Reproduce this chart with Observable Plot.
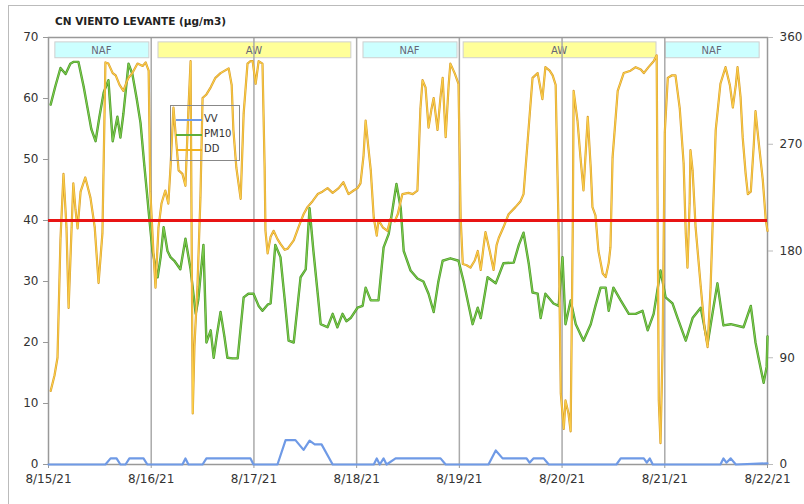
<!DOCTYPE html>
<html><head><meta charset="utf-8">
<script src="https://cdn.jsdelivr.net/npm/d3@7"></script>
<script src="https://cdn.jsdelivr.net/npm/@observablehq/plot@0.6"></script>
<style>
body{margin:0;background:#fff;font-family:"DejaVu Sans",sans-serif;}
#wrap{position:relative;width:804px;height:504px;overflow:hidden;background:#fff;}
#frame{position:absolute;left:8px;top:5px;width:900px;height:600px;border-top:1.5px solid #bbb;border-left:1.5px solid #bbb;}
#chart{position:absolute;left:0;top:0;}
#title{position:absolute;left:55px;top:15px;font-size:10.5px;font-weight:bold;color:#222;}
#legend{position:absolute;left:170px;top:105px;width:68px;height:54px;border:1.5px solid #888;font-size:10px;color:#333;}
.li{position:absolute;left:5px;height:12px;}
.li span.sw{position:absolute;left:0;top:6px;width:26px;height:0;}
.li span.tx{position:absolute;left:28px;top:0;line-height:12px;}
</style></head>
<body>
<div id="wrap">
  <div id="frame"></div>
  <div id="chart"></div>
  <div id="title">CN VIENTO LEVANTE (µg/m3)</div>
  <div id="legend"></div>
</div>
<script>
// ---- data (hours since 8/15/21 00:00) ----
const dayLabels = ["8/15/21","8/16/21","8/17/21","8/18/21","8/19/21","8/20/21","8/21/21","8/22/21"];
const dayTicks = [0,24,48,72,96,120,144,168];
const leftTicks = [0,10,20,30,40,50,60,70];
const rightTicks = [0,90,180,270,360];
const limitValue = 40;

const bandLabels = ["NAF","AW","NAF","AW","NAF"];
const bandStart = [0.9,25.0,72.9,96.3,143.5];
const bandEnd = [23.8,71.0,95.8,142.3,166.4];

const pm10Hours = [0.5,1.6,2.8,4.0,5.1,5.8,7.0,8.2,9.1,10.0,11.0,11.9,12.9,14.0,15.0,16.1,16.8,17.5,18.7,19.6,20.6,21.5,22.4,23.1,23.6,24.3,25.5,26.2,26.9,27.8,28.5,29.4,30.8,32.0,33.2,34.4,35.0,36.2,36.9,37.9,38.6,39.3,40.2,41.1,41.8,43.0,44.2,45.6,46.7,47.9,49.1,50.0,51.2,51.9,53.0,54.2,55.2,56.1,57.3,58.2,58.9,60.1,61.0,61.9,62.9,63.6,65.2,66.4,67.5,68.7,69.6,70.6,72.2,73.4,74.1,75.3,77.1,78.3,79.5,80.6,81.3,82.3,83.0,84.6,86.2,87.6,88.8,90.0,91.1,92.1,93.9,95.8,97.0,98.2,99.1,100.3,101.0,102.6,104.5,106.3,108.7,109.9,111.0,112.2,113.1,114.3,115.0,116.1,118.0,119.2,120.1,120.8,122.0,123.2,125.0,126.7,127.8,129.0,130.2,130.9,132.0,133.7,135.6,137.2,138.8,140.0,141.4,143.0,144.2,145.8,147.0,148.9,150.5,152.4,154.0,155.2,156.3,157.7,159.4,162.4,164.1,165.2,165.9,167.1,167.8,168.0];
const pm10Values = [59,62,65,64,65.7,66,66,62,58.5,55,53,57,61,63,53,57,53.6,57.5,65.7,64,60,56,49,43.8,40,35,30.7,34,38.9,35,34,33.4,32,37,32,24.7,27,36,20,22,17.5,21,25,21,17.5,17.4,17.4,27.4,28,28,26,25.2,26.2,26.4,36,34,27,20.3,20,26,30.7,32,42,35,28,23,22.5,24.7,22.5,24.7,23.5,24,25.7,26,29,26.9,26.9,35.6,37.8,42.8,46,42,35,31.8,30.5,30,28,25,30,33.4,33.8,33.4,30,26,23,25.7,24,30.7,29.7,33,33.1,36,38,33,28.2,28,24,28,26.4,26,34,23,26.9,23,20.3,23,26,29,29,25.2,29,26.9,24.7,24.7,25.2,22,24.7,31.8,27.4,26.4,24,20.3,24,25.7,19.8,25,29.7,22.8,23,22.5,26,20,17.5,13.4,16,21];

const ddHours = [0.5,1.4,2.1,2.8,3.5,4.2,4.7,5.4,5.8,6.3,6.8,7.5,8.6,9.3,9.8,10.8,11.7,12.6,13.3,14.0,15.0,15.7,16.6,17.5,18.2,18.7,19.6,20.8,22.0,22.7,23.4,23.8,24.5,25.0,25.7,26.4,27.3,28.0,28.5,29.2,29.9,30.4,31.3,32.0,32.7,33.2,33.7,34.1,34.8,35.5,36.0,36.9,37.9,39.0,40.2,42.1,42.8,43.2,43.9,44.9,45.6,46.5,47.2,47.7,48.4,49.1,50.0,50.5,50.7,51.2,51.9,52.6,53.5,54.2,55.2,55.9,57.3,58.4,59.6,60.5,61.7,62.9,64.0,65.2,66.4,67.8,68.9,70.1,71.3,72.2,72.9,73.6,74.1,74.8,75.3,76.0,76.7,77.1,78.1,79.2,79.9,80.9,81.6,82.3,82.7,84.1,85.1,86.2,86.9,87.4,88.1,88.8,89.5,90.0,90.9,91.6,92.1,92.8,93.5,93.9,94.9,95.8,96.3,96.8,97.7,98.6,99.6,100.3,101.0,101.7,102.1,103.1,104.0,104.7,105.2,106.3,107.5,109.1,110.3,111.0,111.9,113.1,114.3,115.4,116.1,117.1,117.8,118.5,119.2,119.7,120.4,120.8,121.5,122.0,122.5,122.7,123.6,124.3,125.0,126.0,126.7,127.1,127.8,128.5,129.5,130.2,130.9,131.3,131.8,133.0,134.4,136.0,137.2,138.4,139.1,140.2,141.4,142.1,142.6,143.0,143.5,144.0,144.7,145.6,146.5,147.5,148.4,148.9,149.3,149.8,150.0,150.5,151.2,152.4,153.3,154.0,154.7,155.9,157.0,158.2,159.2,159.9,160.6,161.0,161.7,162.2,162.9,163.4,164.1,164.8,165.2,165.9,166.9,167.6,168.0];
const ddValues = [62,75,90,190,245,200,132,200,237,215,199,230,242,232,225,200,153,195,339,338,330,328,320,315,322,326,330,338,336,339,332,230,180,149,200,220,231,220,250,301,270,248,245,235,300,340,43,100,150,225,309,312,318,326,330,334,320,282,250,224,296,338,340,340,321,340,338,250,197,178,192,197,190,186,181,182,189,200,211,217,222,228,230,233,229,233,238,228,231,233,237,260,290,265,248,208,193,206,200,197,207,205,211,222,228,229,228,231,300,324,318,284,300,309,282,310,326,276,320,338,330,321,208,169,168,166,172,180,164,185,196,180,164,185,191,200,211,217,222,228,270,326,330,308,335,332,328,320,197,60,30,54,43,28,200,315,290,259,231,293,250,217,210,180,161,158,170,183,259,315,330,332,335,333,330,335,340,345,54,18,100,280,326,328,328,300,254,195,166,220,265,248,200,150,115,99,149,282,321,335,320,301,320,335,310,276,245,228,230,270,298,273,240,206,197];

const vvHours = [0,13.3,14.5,15.9,16.8,18.0,18.9,22.2,23.1,31.3,32.0,32.7,36.0,36.9,47.2,47.9,53.5,55.4,57.7,59.6,61.0,62.2,63.8,66.4,76.0,76.7,77.4,78.3,79.0,81.1,91.6,92.8,102.8,104.5,106.1,111.7,112.4,113.3,115.7,116.9,132.7,133.7,139.1,139.8,140.5,141.2,157.0,157.7,158.4,159.4,160.6,168.0];
const vvValues = [0,0,1,1,0,0,1,1,0,0,1,0,0,1,1,0,0,4,4,2.4,3.9,3.3,3.3,0,0,1,0,1,0,1,1,0,0,2.3,1,1,0.3,1,1,0,0,1,1,0.3,1,0,0,1,0.3,1,0,0.2];

// ---- build tables ----
const toLeft = d => d * 70 / 360;
const pm10 = pm10Hours.map((h,i)=>({h, v:pm10Values[i]}));
const dd = ddHours.map((h,i)=>({h, v:toLeft(ddValues[i])}));
const vv = vvHours.map((h,i)=>({h, v:vvValues[i]}));
const bands = bandLabels.map((l,i)=>({label:l, s:bandStart[i], e:bandEnd[i]}));

const colPM = "#5fae3a", colDD = "#f2b21e", colVV = "#6f9ae6";

const chart = Plot.plot({
  width: 804, height: 504,
  marginLeft: 48, marginRight: 37, marginTop: 37, marginBottom: 40,
  style: {fontFamily: "DejaVu Sans, sans-serif", fontSize: "12px", color: "#333", background: "transparent"},
  x: {domain: [0,168], label: null},
  y: {domain: [0,70], label: null},
  marks: [
    Plot.rect(bands, {x1:"s", x2:"e", y1: 66.6, y2: 69.2, insetLeft: 3, insetRight: 1,
      fill: d => d.label === "NAF" ? "#ccffff" : "#ffff99", stroke: "#cfcfcf", strokeWidth: 1}),
    Plot.text(bands, {x: d => (d.s + d.e)/2, y: 67.9, text: "label", fontSize: 10, fill: "#667"}),
    Plot.ruleX(dayTicks.slice(1,-1), {stroke: "#aaa", strokeWidth: 1.5}),
    Plot.frame({stroke: "#999", strokeWidth: 1.5}),
    Plot.axisX({ticks: dayTicks, tickFormat: d => dayLabels[Math.round(d/24)], tickSize: 4, tickPadding: 6, stroke: "#999", fontSize: 12, fill:"#333"}),
    Plot.axisY({anchor: "left", ticks: leftTicks, tickSize: 5, tickPadding: 5, stroke: "#999", fontSize: 12, fill:"#333"}),
    Plot.axisY({anchor: "right", ticks: rightTicks.map(toLeft), tickFormat: d => String(Math.round(d*360/70)), tickSize: 5, tickPadding: 7, stroke: "#bbb", fontSize: 12, fill:"#333"}),
    Plot.line(vv, {x: "h", y: "v", stroke: colVV, strokeWidth: 2.2, curve: "linear"}),
    Plot.line(pm10, {x: "h", y: "v", stroke: "#4f9a2c", strokeWidth: 2.4, curve: "linear"}),
    Plot.line(pm10, {x: "h", y: "v", stroke: "#7fd04f", strokeWidth: 1, curve: "linear"}),
    Plot.line(dd, {x: "h", y: "v", stroke: "#d9a030", strokeWidth: 2.2}),
    Plot.line(dd, {x: "h", y: "v", stroke: "#ffd24a", strokeWidth: 1}),
    Plot.ruleY([limitValue], {stroke: "#e81414", strokeWidth: 3})
  ]
});
document.getElementById("chart").appendChild(chart);

// legend
const legItems = [["VV", colVV], ["PM10", colPM], ["DD", colDD]];
const leg = document.getElementById("legend");
legItems.forEach(([name, c], i) => {
  const d = document.createElement("div");
  d.className = "li";
  d.style.top = (7 + i*15) + "px";
  d.innerHTML = `<span class="sw" style="border-top:2px solid ${c}"></span><span class="tx">${name}</span>`;
  leg.appendChild(d);
});
</script>
</body></html>
